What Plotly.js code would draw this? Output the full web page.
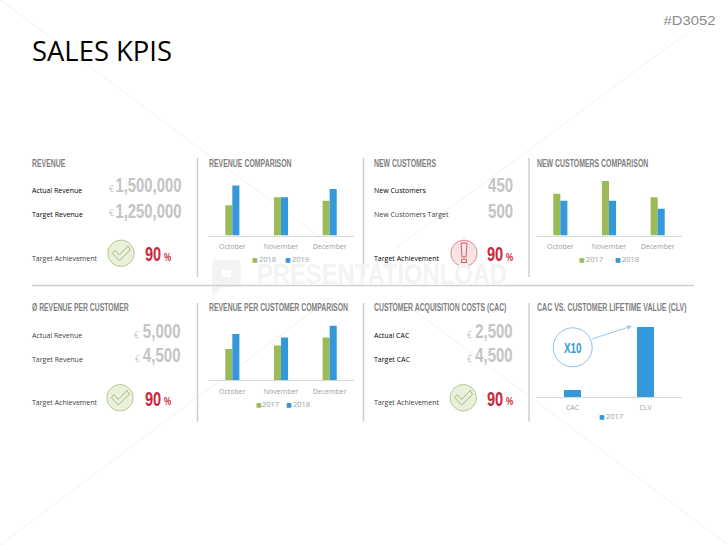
<!DOCTYPE html>
<html>
<head>
<meta charset="utf-8">
<script src="https://cdn.plot.ly/plotly-3.0.1.min.js"></script>
<style>html,body{margin:0;padding:0;background:#fff}#chart{width:727px;height:545px}</style>
</head>
<body>
<div id="chart"></div>
<script>
// ---- data ----
var months = ['October', 'November', 'December'];
var revenue2018 = [2.6, 3.3, 3.0];
var revenue2019 = [4.3, 3.3, 4.0];
var customers2017 = [3.6, 4.7, 3.3];
var customers2018 = [3.0, 3.0, 2.3];
var perCustomer2017 = [2.7, 3.0, 3.7];
var perCustomer2018 = [4.0, 3.7, 4.7];
var cacClvLabels = ['CAC', 'CLV'];
var cacClv2017 = [1, 10];

var W = 727, H = 545;
var GREEN = '#9bbb59', BLUE = '#3498db';
var px = function (x) { return x / W; };
var py = function (y) { return 1 - y / H; };

// ---- traces ----
function bar(x, y, color, name, ax) {
  return { type: 'bar', x: x, y: y, name: name, xaxis: 'x' + ax, yaxis: 'y' + ax,
           marker: { color: color }, hoverinfo: 'x+y+name' };
}
var traces = [
  bar(months, revenue2018, GREEN, '2018', ''),
  bar(months, revenue2019, BLUE, '2019', ''),
  bar(months, customers2017, GREEN, '2017', 2),
  bar(months, customers2018, BLUE, '2018', 2),
  bar(months, perCustomer2017, GREEN, '2017', 3),
  bar(months, perCustomer2018, BLUE, '2018', 3),
  Object.assign(bar(cacClvLabels, cacClv2017, BLUE, '2017', 4), { width: 0.233 })
];

// ---- axes ----
function xAxis(x0, x1, anchor) {
  return { domain: [px(x0), px(x1)], anchor: anchor, type: 'category', showgrid: false, zeroline: false,
           showline: true, linecolor: '#d9d9d9', linewidth: 1, ticks: '', ticklabelstandoff: 4,
           tickfont: { family: 'Open Sans', size: 7, color: '#a0a0a0' }, fixedrange: true };
}
function yAxis(top, base, max, anchor) {
  return { domain: [py(base), py(top)], anchor: anchor, range: [0, max], visible: false, fixedrange: true };
}

// ---- text ----
var annotations = [], widths = [];
function note(text, x, y, o) {
  o = o || {};
  var side = o.side || 'left';
  annotations.push({ text: text, xref: 'paper', yref: 'paper', x: px(x), y: py(y), showarrow: false,
    xanchor: side, yanchor: 'middle', align: side, borderpad: 0, borderwidth: 0,
    font: { family: o.family || 'Open Sans', size: o.size || 7, color: o.color || '#000000', weight: o.weight || 400 } });
  widths.push(o.w || 0);
}
var DISPLAY = 'Liberation Sans';
function heading(t, x0, x1, y) { note(t, x0, y, { family: DISPLAY, size: 11, color: '#7f7f7f', weight: 700, w: x1 - x0 }); }
function bigNumber(t, x0, x1, y) { note(t, x1, y, { family: DISPLAY, size: 21, color: '#c4c4c4', weight: 700, side: 'right', w: x1 - x0 }); }
function euro(x, y) { note('€', x, y, { family: 'Open Sans', size: 8.5, color: '#c4c4c4', side: 'center' }); }
function percent(x0, y) {
  note('90', x0, y, { family: DISPLAY, size: 21, color: '#c9283e', weight: 700, w: 16.2 });
  note('%', x0 + 18.8, y + 3, { family: DISPLAY, size: 11, color: '#c9283e', weight: 700, w: 7.2 });
}
function legendItem(color, label, sx, tx, y) {
  note('■', sx, y, { family: 'DejaVu Sans', size: 6, color: color });
  note(label, tx, y, { family: 'Open Sans', size: 7.5, color: '#a0a0a0' });
}

note('PRESENTATIONLOAD', 257, 273, { family: DISPLAY, size: 30, color: '#f3f3f3', weight: 700, w: 250 });
note('SALES KPIS', 32, 50.5, { family: 'Open Sans', size: 28, color: '#000000', w: 140 });
note('#D3052', 716, 21, { family: DISPLAY, size: 13, color: '#8a8a8a', side: 'right', w: 52 });

heading('REVENUE', 31.7, 65, 163);
heading('REVENUE COMPARISON', 208.7, 291.3, 163);
heading('NEW CUSTOMERS', 374.3, 436.3, 163);
heading('NEW CUSTOMERS COMPARISON', 536.7, 648, 163);
heading('Ø REVENUE PER CUSTOMER', 31.7, 128.3, 307.3);
heading('REVENUE PER CUSTOMER COMPARISON', 208.7, 347.7, 307.3);
heading('CUSTOMER ACQUISITION COSTS (CAC)', 374.3, 506.7, 307.3);
heading('CAC VS. CUSTOMER LIFETIME VALUE (CLV)', 536.7, 686.3, 307.3);

var DARK = '#404040';
note('Actual Revenue', 31.5, 190);
note('Target Revenue', 31.5, 214.3);
note('Target Achievement', 31.5, 258, { color: DARK });
note('New Customers', 374.3, 190);
note('New Customers Target', 374.3, 214.3, { color: DARK });
note('Target Achievement', 374.3, 258);
note('Actual Revenue', 31.5, 335, { color: DARK });
note('Target Revenue', 31.5, 359.3, { color: DARK });
note('Target Achievement', 31.5, 402.7, { color: DARK });
note('Actual CAC', 374.3, 335);
note('Target CAC', 374.3, 359.3);
note('Target Achievement', 374.3, 402.7, { color: DARK });

bigNumber('1,500,000', 115, 181, 185);
bigNumber('1,250,000', 115, 181, 210);
bigNumber('450', 488, 513, 185);
bigNumber('500', 488, 513, 210);
bigNumber('5,000', 143.3, 181, 330.3);
bigNumber('4,500', 143.3, 181, 354.7);
bigNumber('2,500', 475.7, 513, 330.3);
bigNumber('4,500', 475.7, 513, 354.7);
euro(111, 189); euro(111, 213); euro(136.7, 334); euro(137, 358); euro(469.3, 334); euro(469.3, 358);

percent(144.7, 253.7);
percent(487.3, 253.7);
percent(144.7, 398.3);
percent(487.3, 398.3);

legendItem(GREEN, '2018', 251.5, 258.7, 259.3);
legendItem(BLUE, '2019', 285, 291.7, 259.3);
legendItem(GREEN, '2017', 578.7, 585.7, 259.3);
legendItem(BLUE, '2018', 615.4, 622, 259.3);
legendItem(GREEN, '2017', 255.7, 262.3, 404);
legendItem(BLUE, '2018', 286.4, 292.7, 404);
legendItem(BLUE, '2017', 598.7, 605.7, 416.3);

note('X10', 564, 347.3, { family: DISPLAY, size: 15, color: BLUE, weight: 700, w: 17.5 });
annotations.push({ text: '', xref: 'paper', yref: 'paper', axref: 'pixel', ayref: 'pixel',
  x: px(632), y: py(326), ax: -41.5, ay: 13.5, showarrow: true, arrowhead: 2, arrowsize: 1, arrowwidth: 1, arrowcolor: '#9cc9ec' });
widths.push(0);

// ---- decoration ----
var shapes = [];
function line(x0, y0, x1, y1, color, width) {
  shapes.push({ type: 'line', xref: 'paper', yref: 'paper', x0: px(x0), y0: py(y0), x1: px(x1), y1: py(y1),
                line: { color: color, width: width }, layer: 'below' });
}
function pathOf(points, dx, dy) {
  return 'M' + points.map(function (p) { return px(p[0] + dx) + ',' + py(p[1] + dy); }).join('L') + 'Z';
}
function circle(cx, cy, r, fill, stroke, width) {
  shapes.push({ type: 'circle', xref: 'paper', yref: 'paper', x0: px(cx - r), x1: px(cx + r), y0: py(cy - r), y1: py(cy + r),
                fillcolor: fill, line: { color: stroke, width: width } });
}
var checkOutline = [[-8.7, 0], [-1.7, 7.3], [9.3, -3.3], [7, -7.3], [-1.7, 1.7], [-6, -3]];
function okIcon(cx, cy) {
  circle(cx, cy, 13.2, '#ebf0dd', '#b5cb8f', 1);
  shapes.push({ type: 'path', xref: 'paper', yref: 'paper', path: pathOf(checkOutline, cx, cy), line: { color: '#8fae5f', width: 0.8 } });
}
function warnIcon(cx, cy) {
  circle(cx, cy, 13.2, '#f9e3e5', '#dd8f99', 1);
  shapes.push({ type: 'path', xref: 'paper', yref: 'paper', path: pathOf([[-3, -10.3], [3, -10.3], [2, 3.7], [-2, 3.7]], cx, cy), line: { color: '#c9384c', width: 0.8 } });
  shapes.push({ type: 'path', xref: 'paper', yref: 'paper', path: pathOf([[-2.6, 6], [2.6, 6], [2.6, 9.2], [-2.6, 9.2]], cx, cy), line: { color: '#c9384c', width: 0.8 } });
}

// faint watermark
var WM = '#f1f1f1';
line(0, 0, 333, 247, WM, 1);
line(687, 33, 396, 248, WM, 1);
line(0, 545, 332, 297, WM, 1);
line(727, 544, 396, 297, WM, 1);
shapes.push({ type: 'path', xref: 'paper', yref: 'paper', layer: 'below', fillrule: 'evenodd', fillcolor: '#f3f3f3', line: { width: 0 },
  path: pathOf([[212.3, 263], [215, 260], [238, 260], [240.7, 263], [240.7, 284], [238, 287], [222, 287], [212.3, 297]], 0, 0) +
        pathOf([[222, 270], [231, 270], [231, 277], [222, 277]], 0, 0) });

// separators
var RULE = '#cfcfcf';
line(32, 285.5, 694, 285.5, RULE, 1.5);
[197.5, 363.5, 529].forEach(function (x) {
  line(x, 158, x, 277, RULE, 1.5);
  line(x, 303, x, 421.7, RULE, 1.5);
});

okIcon(121, 253.3);
warnIcon(464, 253.3);
okIcon(120, 397.7);
okIcon(463.3, 397.7);
circle(572.7, 347.3, 19.5, '#ffffff', '#8cc3ec', 1);

var layout = {
  width: W, height: H, margin: { l: 0, r: 0, t: 0, b: 0 }, showlegend: false,
  paper_bgcolor: '#ffffff', plot_bgcolor: 'rgba(0,0,0,0)',
  barmode: 'group', bargap: 0.71, bargroupgap: 0,
  xaxis: xAxis(208, 354, 'y'), yaxis: yAxis(177.5, 235.5, 5, 'x'),
  xaxis2: xAxis(536, 682, 'y2'), yaxis2: yAxis(177.5, 235.5, 5, 'x2'),
  xaxis3: xAxis(208, 354, 'y3'), yaxis3: yAxis(322.3, 380.3, 5, 'x3'),
  xaxis4: xAxis(536, 682, 'y4'), yaxis4: yAxis(326, 397, 10.14, 'x4'),
  shapes: shapes, annotations: annotations
};

Plotly.newPlot('chart', traces, layout, { displayModeBar: false, staticPlot: true }).then(function (gd) {
  // condense the display type to the width it has in the reference
  widths.forEach(function (w, i) {
    if (!w) return;
    var t = gd.querySelector('.annotation[data-index="' + i + '"] text.annotation-text');
    if (t) { t.setAttribute('textLength', w); t.setAttribute('lengthAdjust', 'spacingAndGlyphs'); }
  });
});
</script>
</body>
</html>
